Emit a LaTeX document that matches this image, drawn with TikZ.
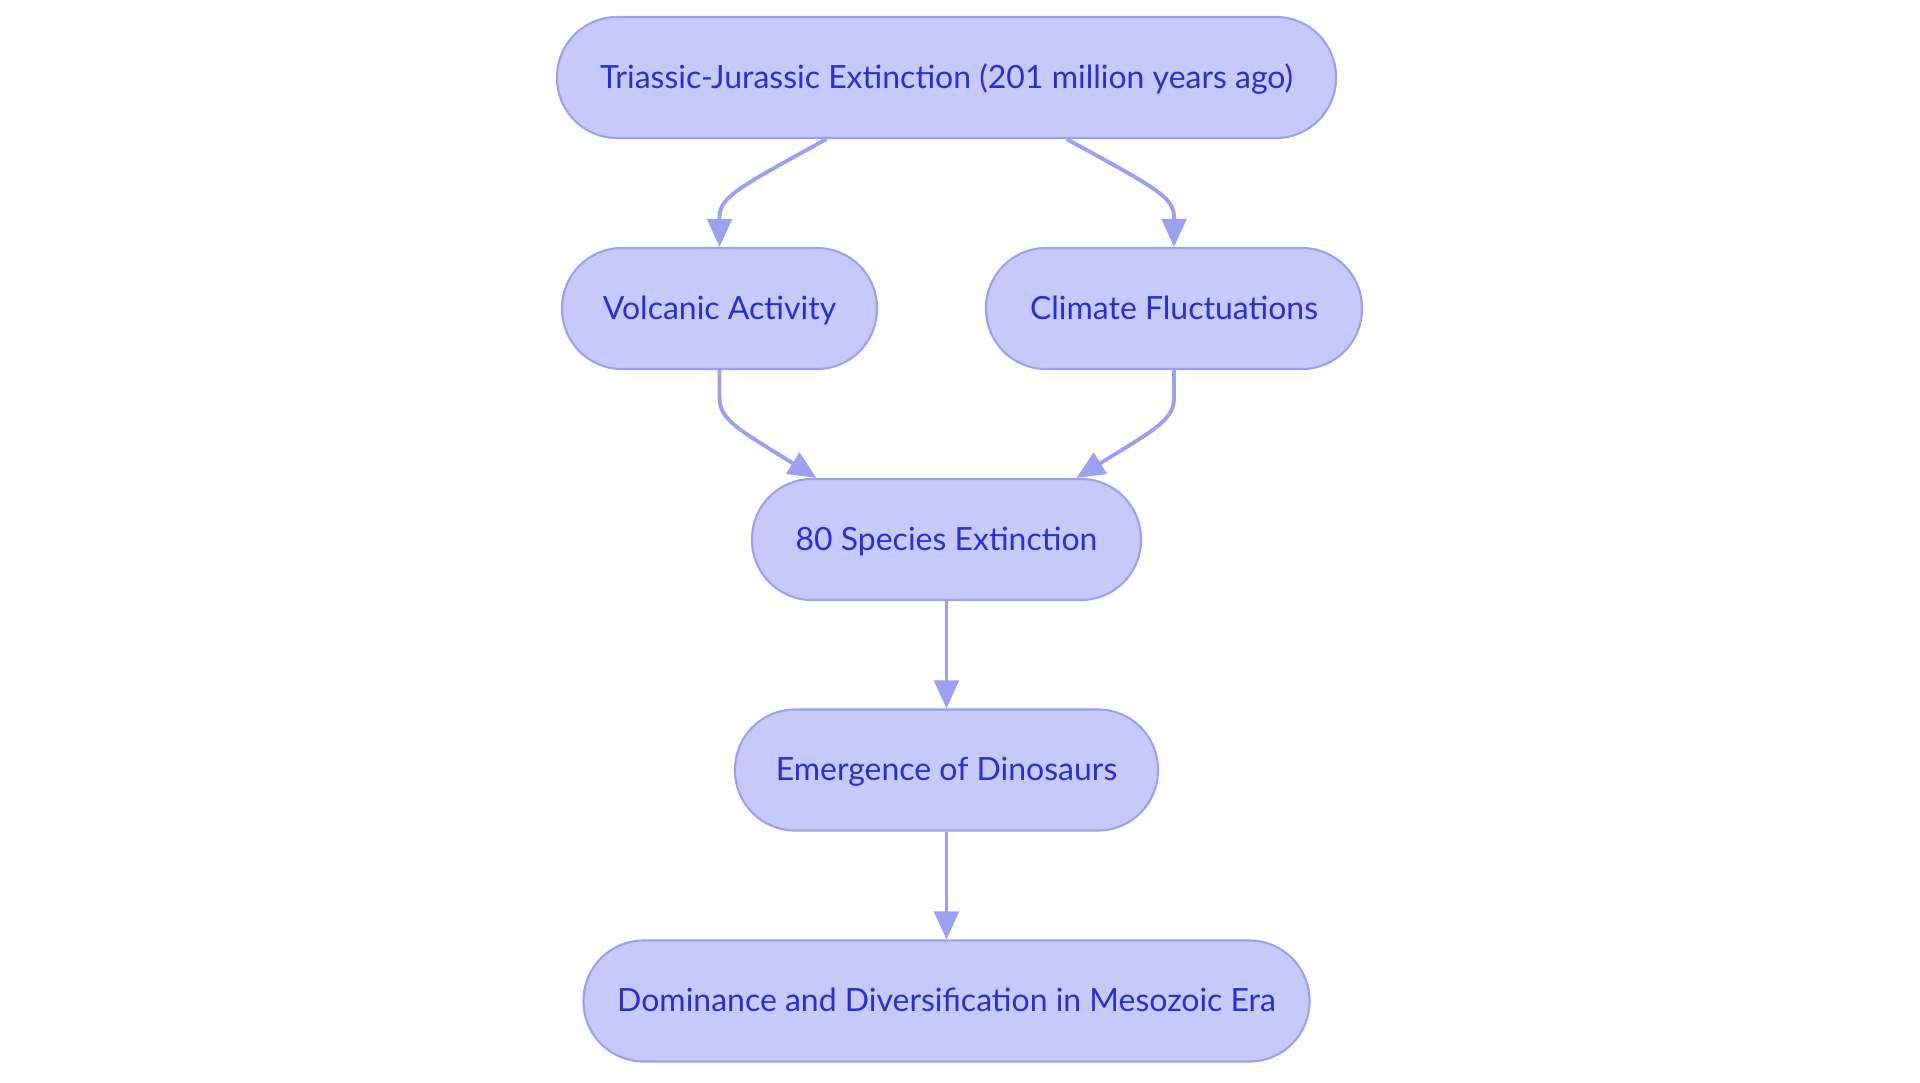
\documentclass[tikz,border=0pt]{standalone}
\usepackage{fontspec}
\setmainfont{Lato}
\definecolor{nodefill}{RGB}{200,201,251}
\definecolor{nodeline}{RGB}{157,160,240}
\definecolor{nodetext}{RGB}{43,47,204}
\usetikzlibrary{arrows.meta,positioning,calc}

\begin{document}
\begin{tikzpicture}[
    stage/.style={draw=nodeline, line width=0.6pt, fill=nodefill, rounded corners=0.6cm,
        minimum height=1.21cm, inner xsep=0pt, text height=0.72em, text depth=0.1em,
        text=nodetext, font=\fontsize{9.1}{11}\selectfont},
    link/.style={draw=nodeline, line width=1.1pt, -{Triangle[length=8pt,width=7pt]}}
]
\useasboundingbox (0,0) rectangle (19.2,-10.83);

% Nodes
\node[stage, minimum width=7.79cm] (event) at (9.465,-0.775) {Triassic-Jurassic Extinction (201 million years ago)};
\node[stage, minimum width=3.15cm] (volcano) at (7.195,-3.085) {Volcanic Activity};
\node[stage, minimum width=3.76cm] (climate) at (11.74,-3.085) {Climate Fluctuations};
\node[stage, minimum width=3.89cm] (loss) at (9.465,-5.395) {80 Species Extinction};
\node[stage, minimum width=4.23cm] (dinos) at (9.465,-7.70) {Emergence of Dinosaurs};
\node[stage, minimum width=7.26cm] (mesozoic) at (9.465,-10.01) {Dominance and Diversification in Mesozoic Era};

% Causes
\draw[link] ([xshift=-1.2cm]event.south) .. controls ($(volcano.north)+(0.2,0.6)$) and ($(volcano.north)+(0,0.5)$) .. ($(volcano.north)+(0,0.3)$) -- (volcano.north);
\draw[link] ([xshift=1.2cm]event.south) .. controls ($(climate.north)+(-0.2,0.6)$) and ($(climate.north)+(0,0.5)$) .. ($(climate.north)+(0,0.3)$) -- (climate.north);

% Effects
\draw[link] (volcano.south) -- ($(volcano.south)+(0,-0.28)$) .. controls ($(volcano.south)+(0,-0.5)$) and ($(volcano.south)+(0.2,-0.6)$) .. ([xshift=-1.3cm]loss.north);
\draw[link] (climate.south) -- ($(climate.south)+(0,-0.28)$) .. controls ($(climate.south)+(0,-0.5)$) and ($(climate.south)+(-0.2,-0.6)$) .. ([xshift=1.3cm]loss.north);
\draw[link] (loss) -- (dinos);
\draw[link] (dinos) -- (mesozoic);
\end{tikzpicture}
\end{document}
